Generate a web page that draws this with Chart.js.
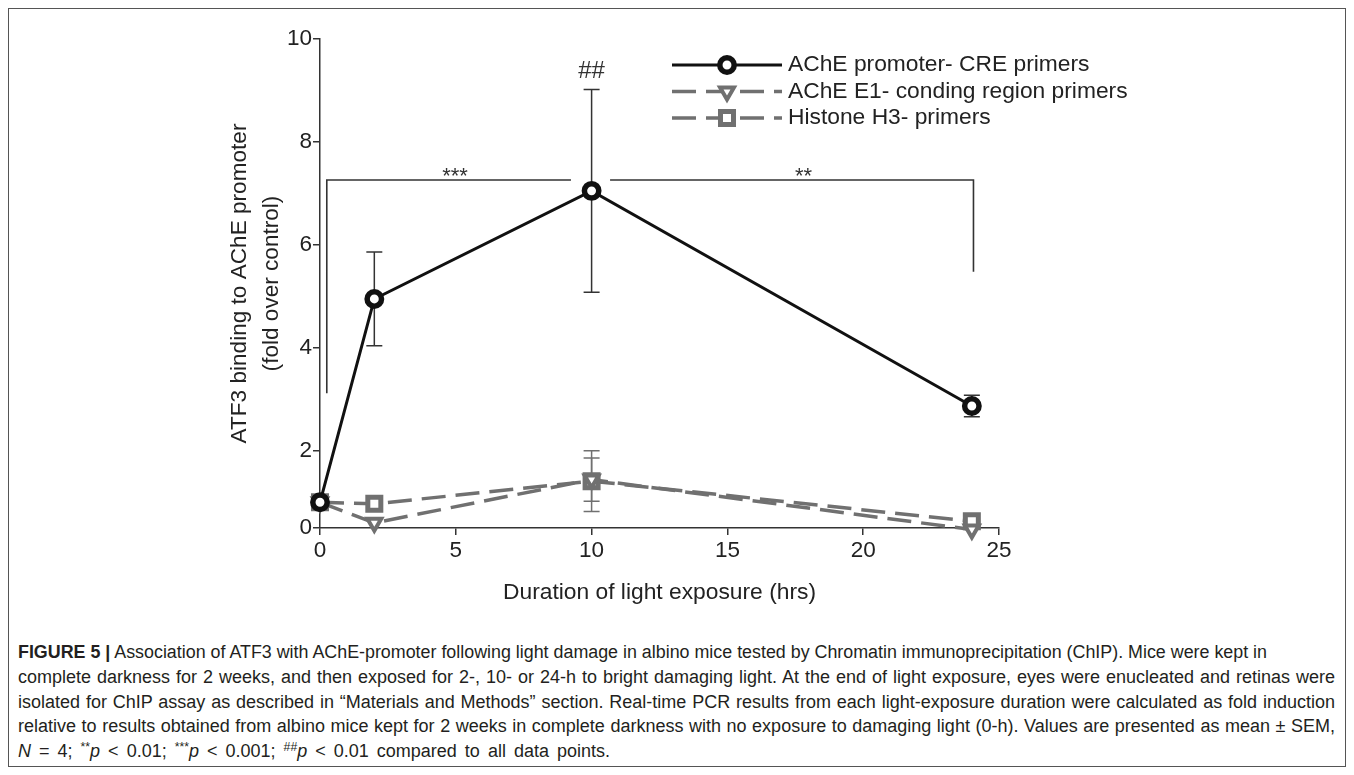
<!DOCTYPE html>
<html>
<head>
<meta charset="utf-8">
<title>ATF3 binding to AChE promoter</title>
<script src="https://cdn.jsdelivr.net/npm/chart.js@4.4.1/dist/chart.umd.min.js"></script>
<style>
  html, body { margin: 0; padding: 0; background: #fff; }
  #page { position: relative; width: 1354px; height: 775px; overflow: hidden; font-family: "Liberation Sans", Arial, sans-serif; }
  #frame { position: absolute; left: 8px; top: 8px; width: 1338px; height: 759px; border: 1px solid #555; box-sizing: border-box; z-index: 2; pointer-events: none; }
  #chart { position: absolute; left: 0; top: 0; }
  .capline { position: absolute; left: 18px; height: 22px; line-height: 22px; white-space: nowrap; font-size: 18px; color: #231f20; transform-origin: 0 50%; }
  .capline sup { font-size: 0.68em; vertical-align: 0.5em; line-height: 0; }
</style>
</head>
<body>
<div id="page">
  <canvas id="chart" width="1354" height="625"></canvas>
  <div id="caption"></div>
  <div id="frame"></div>
</div>
<script>
// ---- data ----
const hours = [0, 2, 10, 24];
const creMean = [1.0, 4.95, 7.05, 2.87];
const creSem = [0, 0.91, 1.97, 0.21];
const e1Mean = [1.0, 0.6, 1.44, 0.47];
const e1Sem = [0, 0, 0.42, 0];
const h3Mean = [1.0, 0.97, 1.41, 0.63];
const h3Sem = [0, 0, 0.59, 0];
const seriesNames = ['AChE promoter- CRE primers', 'AChE E1- conding region primers', 'Histone H3- primers'];

const xTicks = [0, 5, 10, 15, 20, 25];
// the x axis sits a little above zero; its tick is labelled 0 as in the original
const yTickValues = [0.5, 2, 4, 6, 8, 10];
const yTickLabels = ['0', '2', '4', '6', '8', '10'];

// significance brackets (data units): horizontal span, bar height, end of the drop line
const bracketLeft = { from: 0.25, to: 9.24, y: 7.26, drop: 3.12 };
const bracketRight = { from: 10.68, to: 24.06, y: 7.26, drop: 5.48 };
const starLabels = [{ text: '***', x: 4.97, y: 7.26 }, { text: '**', x: 17.8, y: 7.26 }];
const hashLabel = { text: '##', x: 10, y: 9.37 };

const FONT = '"Liberation Sans", Arial, Helvetica, sans-serif';
Chart.defaults.font.family = FONT;
Chart.defaults.color = '#222';

const gray = '#707070';

function toPoints(means) {
  return hours.map((h, i) => ({ x: h, y: means[i] }));
}

// error bars and brackets, drawn under the markers
const errorBars = {
  id: 'errorBars',
  beforeDatasetsDraw(chart) {
    const { ctx, scales: { x, y } } = chart;
    chart.data.datasets.forEach((ds, i) => {
      if (!chart.isDatasetVisible(i)) return;
      ctx.save();
      ctx.strokeStyle = ds.errorColor;
      ctx.lineWidth = 1.5;
      ds.data.forEach((p, j) => {
        const s = ds.sem[j];
        if (!s) return;
        const px = x.getPixelForValue(p.x);
        const top = y.getPixelForValue(p.y + s);
        const bot = y.getPixelForValue(p.y - s);
        ctx.beginPath();
        ctx.moveTo(px, top); ctx.lineTo(px, bot);
        ctx.moveTo(px - 8, top); ctx.lineTo(px + 8, top);
        ctx.moveTo(px - 8, bot); ctx.lineTo(px + 8, bot);
        ctx.stroke();
      });
      ctx.restore();
    });

    ctx.save();
    ctx.strokeStyle = '#333';
    ctx.lineWidth = 1.6;
    ctx.beginPath();
    ctx.moveTo(x.getPixelForValue(bracketLeft.from), y.getPixelForValue(bracketLeft.drop));
    ctx.lineTo(x.getPixelForValue(bracketLeft.from), y.getPixelForValue(bracketLeft.y));
    ctx.lineTo(x.getPixelForValue(bracketLeft.to), y.getPixelForValue(bracketLeft.y));
    ctx.moveTo(x.getPixelForValue(bracketRight.from), y.getPixelForValue(bracketRight.y));
    ctx.lineTo(x.getPixelForValue(bracketRight.to), y.getPixelForValue(bracketRight.y));
    ctx.lineTo(x.getPixelForValue(bracketRight.to), y.getPixelForValue(bracketRight.drop));
    ctx.stroke();

    ctx.fillStyle = '#333';
    ctx.textAlign = 'center';
    ctx.textBaseline = 'alphabetic';
    ctx.font = '22px ' + FONT;
    starLabels.forEach(l => {
      ctx.fillText(l.text, x.getPixelForValue(l.x), y.getPixelForValue(l.y) + 3);
    });
    ctx.textBaseline = 'middle';
    ctx.font = '24px ' + FONT;
    ctx.fillText(hashLabel.text, x.getPixelForValue(hashLabel.x), y.getPixelForValue(hashLabel.y));
    ctx.restore();
  }
};

// legend with line + marker samples, inside the plot at top right
const legendRows = {
  id: 'legendRows',
  afterDraw(chart) {
    const { ctx } = chart;
    chart.data.datasets.forEach((ds, i) => {
      const yy = 65 + i * 26.5;
      ctx.save();
      ctx.strokeStyle = ds.borderColor;
      ctx.lineWidth = ds.borderWidth;
      ctx.setLineDash(ds.borderDash || []);
      ctx.beginPath();
      ctx.moveTo(672, yy);
      ctx.lineTo(782, yy);
      ctx.stroke();
      ctx.setLineDash([]);
      ctx.fillStyle = ds.pointBackgroundColor;
      ctx.strokeStyle = ds.pointBorderColor;
      ctx.lineWidth = ds.pointBorderWidth;
      Chart.helpers.drawPoint(ctx, {
        pointStyle: ds.pointStyle,
        rotation: ds.pointRotation || 0,
        radius: ds.pointRadius,
        borderWidth: ds.pointBorderWidth
      }, 727, yy);
      ctx.fillStyle = '#222';
      ctx.font = '22.8px ' + FONT;
      ctx.textAlign = 'left';
      ctx.textBaseline = 'middle';
      ctx.fillText(ds.label, 788, yy);
      ctx.restore();
    });
  }
};

new Chart(document.getElementById('chart'), {
  type: 'line',
  data: {
    datasets: [
      {
        label: seriesNames[0],
        data: toPoints(creMean),
        sem: creSem,
        errorColor: '#333',
        borderColor: '#111',
        borderWidth: 3,
        pointStyle: 'circle',
        pointRadius: 7.2,
        pointBorderWidth: 5.5,
        pointBackgroundColor: '#fff',
        pointBorderColor: '#111',
        clip: false
      },
      {
        label: seriesNames[1],
        data: toPoints(e1Mean),
        sem: e1Sem,
        errorColor: gray,
        borderColor: gray,
        borderWidth: 3.5,
        borderDash: [24, 10],
        pointStyle: 'triangle',
        pointRotation: 180,
        pointRadius: 8,
        pointBorderWidth: 4,
        pointBackgroundColor: '#fff',
        pointBorderColor: gray,
        clip: false
      },
      {
        label: seriesNames[2],
        data: toPoints(h3Mean),
        sem: h3Sem,
        errorColor: gray,
        borderColor: gray,
        borderWidth: 3.5,
        borderDash: [24, 10],
        pointStyle: 'rect',
        pointRadius: 9.2,
        pointBorderWidth: 5,
        pointBackgroundColor: '#fff',
        pointBorderColor: gray,
        clip: false
      }
    ]
  },
  options: {
    responsive: false,
    animation: false,
    devicePixelRatio: 1,
    layout: { padding: { left: 200, right: 355, top: 39, bottom: 7 } },
    plugins: { legend: { display: false }, tooltip: { enabled: false } },
    scales: {
      x: {
        type: 'linear',
        min: 0,
        max: 25,
        afterBuildTicks: scale => { scale.ticks = xTicks.map(v => ({ value: v })); },
        afterFit: scale => { scale.height = 90; },
        grid: { drawOnChartArea: false, drawTicks: true, tickLength: 7, color: '#333', lineWidth: 1.5 },
        border: { display: true, color: '#333', width: 1.5 },
        ticks: { font: { size: 22.5 }, color: '#222', padding: 2, maxRotation: 0, callback: v => String(v) },
        title: {
          display: true,
          text: 'Duration of light exposure (hrs)',
          font: { size: 22.8 },
          color: '#222',
          padding: { top: 0, bottom: 12 }
        }
      },
      y: {
        type: 'linear',
        min: 0.5,
        max: 10,
        afterBuildTicks: scale => { scale.ticks = yTickValues.map(v => ({ value: v })); },
        afterFit: scale => { scale.width = 120; },
        grid: { drawOnChartArea: false, drawTicks: true, tickLength: 7, color: '#333', lineWidth: 1.5 },
        border: { display: true, color: '#333', width: 1.5 },
        ticks: {
          font: { size: 22.5 },
          color: '#222',
          padding: 1,
          callback: v => {
            const k = yTickValues.indexOf(v);
            return k >= 0 ? yTickLabels[k] : '';
          }
        },
        title: {
          display: true,
          text: ['ATF3 binding to AChE promoter', '(fold over control)'],
          font: { size: 22.6, lineHeight: 1.42 },
          color: '#222',
          padding: { top: 24, bottom: 0 }
        }
      }
    }
  },
  plugins: [errorBars, legendRows]
});

// ---- figure caption ----
const captionLines = [
  '<b>FIGURE 5 |</b> Association of ATF3 with AChE-promoter following light damage in albino mice tested by Chromatin immunoprecipitation (ChIP). Mice were kept in',
  'complete darkness for 2 weeks, and then exposed for 2-, 10- or 24-h to bright damaging light. At the end of light exposure, eyes were enucleated and retinas were',
  'isolated for ChIP assay as described in \u201cMaterials and Methods\u201d section. Real-time PCR results from each light-exposure duration were calculated as fold induction',
  'relative to results obtained from albino mice kept for 2 weeks in complete darkness with no exposure to damaging light (0-h). Values are presented as mean \u00b1 SEM,',
  '<i>N</i> = 4; <sup>**</sup><i>p</i> &lt; 0.01; <sup>***</sup><i>p</i> &lt; 0.001; <sup>##</sup><i>p</i> &lt; 0.01 compared to all data points.'
];
const captionWidths = [1249, 1317, 1317, 1317, 592];

const cap = document.getElementById('caption');
captionLines.forEach((html, i) => {
  const div = document.createElement('div');
  div.className = 'capline';
  div.innerHTML = html;
  div.style.top = (652 + i * 24.75 - 11) + 'px';
  cap.appendChild(div);
  const target = captionWidths[i];
  if (!target) return;
  const natural = div.getBoundingClientRect().width;
  const spaces = (div.textContent.match(/ /g) || []).length;
  if (natural < target && spaces) {
    div.style.wordSpacing = ((target - natural) / spaces) + 'px';
  } else if (natural > target) {
    div.style.transform = 'scaleX(' + (target / natural) + ')';
  }
});
</script>
</body>
</html>
